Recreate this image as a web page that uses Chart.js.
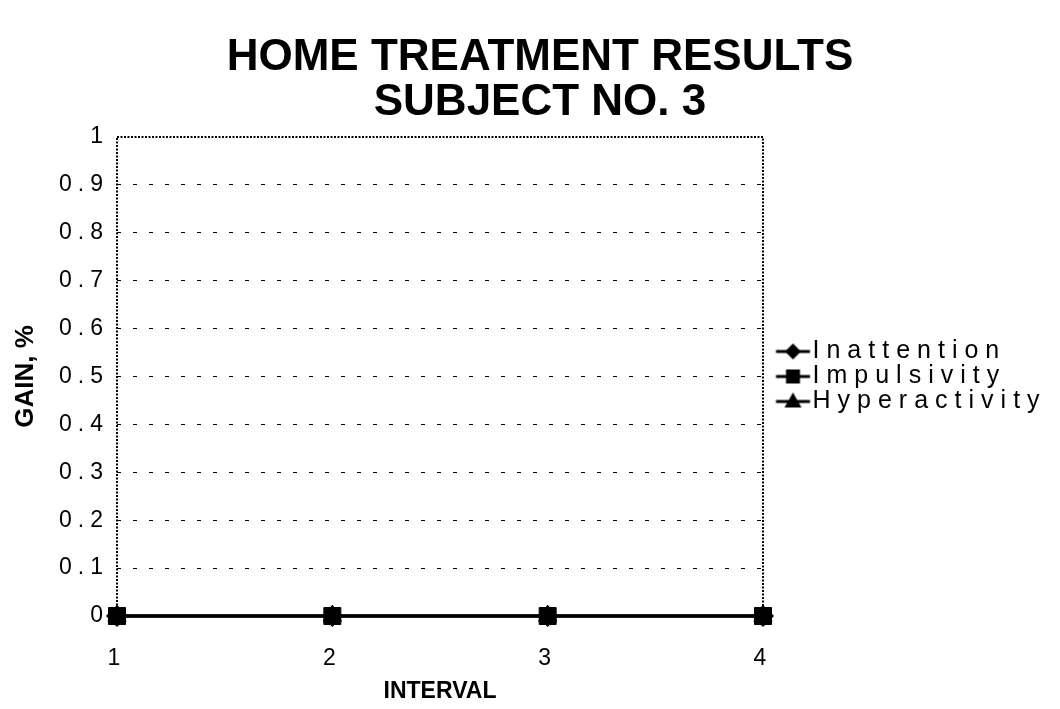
<!DOCTYPE html>
<html>
<head>
<meta charset="utf-8">
<script src="https://cdn.jsdelivr.net/npm/chart.js@4.4.0/dist/chart.umd.min.js"></script>
<style>
    html, body { margin: 0; padding: 0; background: #fff; }
</style>
</head>
<body>
<canvas id="grafico-resultados" width="1060" height="709"></canvas>
<script>
//Datos del grafico
var intervalos = ['1', '2', '3', '4'];
var inatencion = [0, 0, 0, 0];
var impulsividad = [0, 0, 0, 0];
var hiperactividad = [0, 0, 0, 0];
var etiquetasY = ['0', '0.1', '0.2', '0.3', '0.4', '0.5', '0.6', '0.7', '0.8', '0.9', '1'];
var tituloGrafico = ['HOME TREATMENT RESULTS', 'SUBJECT NO. 3'];

var fuente = "'Liberation Sans', Arial, Helvetica, sans-serif";
var espaciadoLeyenda = '7px';
var espaciadoMarcas = '6px';
var anchoLeyenda = 297;

//Iconos de la leyenda: linea corta con su marcador
function iconoLeyenda(estilo) {
    var c = document.createElement('canvas');
    c.width = 60;
    c.height = 24;
    var ctx = c.getContext('2d');
    ctx.strokeStyle = '#000';
    ctx.fillStyle = '#000';
    ctx.lineWidth = 3;
    ctx.beginPath();
    ctx.moveTo(24.5, 12);
    ctx.lineTo(58.5, 12);
    ctx.stroke();
    var cx = 41.5, cy = 12;
    ctx.beginPath();
    if (estilo == 'rombo') {
        ctx.moveTo(cx, cy - 8);
        ctx.lineTo(cx + 8, cy);
        ctx.lineTo(cx, cy + 8);
        ctx.lineTo(cx - 8, cy);
    } else if (estilo == 'cuadrado') {
        ctx.rect(cx - 7, cy - 7, 14, 14);
    } else {
        ctx.moveTo(cx, cy - 9);
        ctx.lineTo(cx + 8.5, cy + 6);
        ctx.lineTo(cx - 8.5, cy + 6);
    }
    ctx.closePath();
    ctx.fill();
    return c;
}

var iconos = [iconoLeyenda('rombo'), iconoLeyenda('cuadrado'), iconoLeyenda('triangulo')];

//Marco punteado del area y espaciado de letras (leyenda y marcas)
var pluginMarco = {
    id: 'marco',
    beforeLayout: function(chart) {
        var ley = chart.legend;
        if (ley && !ley._capaPropia) {
            ley._capaPropia = true;
            var ajusteOriginal = ley.fit;
            ley.fit = function() {
                ajusteOriginal.call(this);
                this.width = anchoLeyenda;
            };
            ley._layers = function() {
                return [{
                    z: 0,
                    draw: function(area) {
                        chart.ctx.letterSpacing = espaciadoLeyenda;
                        ley.draw(area);
                        chart.ctx.letterSpacing = '0px';
                    }
                }];
            };
        }
    },
    beforeDraw: function(chart) {
        chart.ctx.letterSpacing = '0px';
    },
    beforeDatasetsDraw: function(chart) {
        var a = chart.chartArea;
        var ctx = chart.ctx;
        ctx.save();
        ctx.setLineDash([2, 1.5]);
        ctx.lineWidth = 2;
        ctx.strokeStyle = '#000';
        ctx.strokeRect(a.left, a.top, a.right - a.left, a.bottom - a.top);
        ctx.restore();
    },
    afterDatasetsDraw: function(chart) {
        chart.ctx.letterSpacing = espaciadoMarcas;
    },
    afterDraw: function(chart) {
        chart.ctx.letterSpacing = '0px';
    }
};

function serie(nombre, datos, estilo, radio, orden) {
    return {
        label: nombre,
        data: datos,
        borderColor: '#000',
        backgroundColor: '#000',
        borderWidth: 3,
        pointStyle: estilo,
        pointRadius: radio,
        pointBorderWidth: 1,
        pointBackgroundColor: '#000',
        pointBorderColor: '#000',
        tension: 0,
        clip: false,
        order: orden
    };
}

new Chart(document.getElementById('grafico-resultados'), {
    type: 'line',
    data: {
        labels: intervalos,
        datasets: [
            serie('Inattention', inatencion, 'rectRot', 10.5, 2),
            serie('Impulsivity', impulsividad, 'rect', 12, 0),
            serie('Hyperactivity', hiperactividad, 'triangle', 10.5, 1)
        ]
    },
    options: {
        responsive: false,
        animation: false,
        devicePixelRatio: 1,
        layout: {
            padding: { left: 20, right: 0, top: 0, bottom: 0 }
        },
        plugins: {
            tooltip: { enabled: false },
            title: {
                display: true,
                text: tituloGrafico,
                color: '#000',
                font: { family: fuente, size: 44, weight: 'bold', lineHeight: '45px' },
                padding: { top: 35.5, bottom: 11.5 }
            },
            legend: {
                display: true,
                position: 'right',
                align: 'center',
                fullSize: false,
                labels: {
                    usePointStyle: true,
                    pointStyleWidth: 37,
                    padding: 0,
                    color: '#000',
                    font: { family: fuente, size: 25, lineHeight: 1 },
                    sort: function(a, b) { return a.datasetIndex - b.datasetIndex; },
                    generateLabels: function(chart) {
                        var items = Chart.defaults.plugins.legend.labels.generateLabels(chart);
                        items.forEach(function(it) { it.pointStyle = iconos[it.datasetIndex]; });
                        return items;
                    }
                }
            }
        },
        scales: {
            x: {
                type: 'category',
                offset: false,
                afterFit: function(escala) { escala.height = 93; },
                grid: { display: false, drawTicks: false },
                border: { display: false },
                ticks: {
                    z: 1,
                    padding: 29,
                    color: '#000',
                    maxRotation: 0,
                    font: { family: fuente, size: 23 }
                },
                title: {
                    display: true,
                    text: 'INTERVAL',
                    color: '#000',
                    font: { family: fuente, size: 23, weight: 'bold' },
                    padding: { top: 0, bottom: 4 }
                }
            },
            y: {
                min: 0,
                max: 1,
                afterFit: function(escala) { escala.width = 97; },
                grid: {
                    drawTicks: false,
                    lineWidth: 1,
                    color: function(c) {
                        if (c.tick && (c.tick.value <= 0.001 || c.tick.value >= 0.999)) return 'rgba(0,0,0,0)';
                        return '#000';
                    }
                },
                border: { display: false, dash: [4, 12] },
                ticks: {
                    z: 1,
                    stepSize: 0.1,
                    padding: 8,
                    color: '#000',
                    font: { family: fuente, size: 23 },
                    callback: function(valor, indice) { return etiquetasY[indice]; }
                },
                title: {
                    display: true,
                    text: 'GAIN, %',
                    color: '#000',
                    font: { family: fuente, size: 26, weight: 'bold', lineHeight: 1 },
                    padding: { top: -7, bottom: 0 }
                }
            }
        }
    },
    plugins: [pluginMarco]
});
</script>
</body>
</html>
